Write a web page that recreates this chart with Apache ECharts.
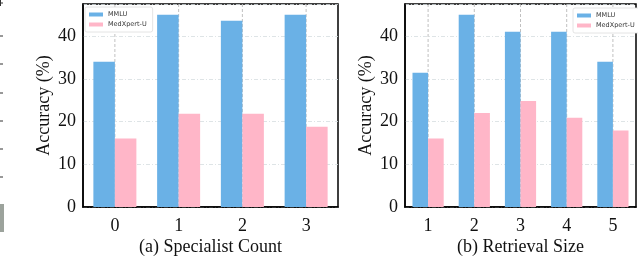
<!DOCTYPE html>
<html>
<head>
<meta charset="utf-8">
<script src="https://cdn.jsdelivr.net/npm/echarts@6/dist/echarts.min.js"></script>
<style>html,body{margin:0;padding:0;background:#fff}#c{width:638px;height:256px}</style>
</head>
<body>
<div id="c"></div>
<script>
var catsA = ['0', '1', '2', '3'];
var mmluA = [34.0, 45.0, 43.6, 45.0];
var medA = [16.0, 21.8, 21.8, 18.8];
var catsB = ['1', '2', '3', '4', '5'];
var mmluB = [31.4, 45.0, 41.0, 41.0, 34.0];
var medB = [16.0, 22.0, 24.8, 20.9, 17.9];
var yTicks = [0, 10, 20, 30, 40];
var seriesNames = ['MMLU', 'MedXpert-U'];
var colors = ['#6ab1e6', '#ffb6c8'];

var serif = 'Liberation Serif';
function xAxis(idx, cats, name) {
  return {
    type: 'category', gridIndex: idx, data: cats,
    name: name, nameLocation: 'middle', nameGap: 31, nameMoveOverlap: false,
    nameTextStyle: {fontFamily: serif, fontSize: 18, color: '#111'},
    axisLine: {show: true, lineStyle: {color: '#000', width: 1.5}},
    axisTick: {show: false},
    axisLabel: {fontFamily: serif, fontSize: 18, color: '#111', margin: 10},
    splitLine: {show: false}
  };
}
function yAxis(idx) {
  return {
    type: 'value', gridIndex: idx, min: 0, max: 47.5, interval: 10,
    name: 'Accuracy (%)', nameLocation: 'middle', nameGap: 30,
    nameTextStyle: {fontFamily: serif, fontSize: 18, color: '#111'},
    axisLine: {show: true, lineStyle: {color: '#000', width: 1.5}},
    axisTick: {show: false},
    axisLabel: {fontFamily: serif, fontSize: 18, color: '#111', margin: 7,
      formatter: function (v) { return yTicks.indexOf(v) >= 0 ? String(v) : ''; }},
    splitLine: {show: true, lineStyle: {color: '#d6dde0', width: 0.8, type: [4, 2, 1, 2]}}
  };
}
function legend(left, top) {
  return {
    data: seriesNames, orient: 'vertical', left: left, top: top,
    itemWidth: 14, itemHeight: 4, itemGap: 3,
    padding: [4, 6, 4, 4],
    backgroundColor: '#fff', borderColor: '#ddd', borderWidth: 0.8, borderRadius: 2,
    textStyle: {fontFamily: 'DejaVu Sans', fontSize: 6.5, color: '#333', padding: [0, 0, 0, 0]},
    icon: 'rect', selectedMode: false
  };
}
function vGrid(idx, cats) {
  return {
    type: 'custom', xAxisIndex: idx, yAxisIndex: idx, z: 1, silent: true,
    data: cats.map(function (c, i) { return [i]; }),
    renderItem: function (params, api) {
      var x = api.coord([api.value(0), 0])[0];
      var cs = params.coordSys;
      return {type: 'line', shape: {x1: x, y1: cs.y, x2: x, y2: cs.y + cs.height},
        style: {stroke: '#b0b0b0', lineWidth: 0.8, lineDash: [3, 2]}};
    }
  };
}
var ticksY = [3, 36, 64, 93, 121, 149, 177];
var gfx = [{type: 'line', shape: {x1: 0.5, y1: 0, x2: 0.5, y2: 6}, style: {stroke: '#333', lineWidth: 1}}];
ticksY.forEach(function (y) {
  gfx.push({type: 'line', shape: {x1: 0, y1: y, x2: 3, y2: y}, style: {stroke: '#333', lineWidth: 1}});
});
gfx.push({type: 'rect', shape: {x: 0, y: 204, width: 4, height: 28}, style: {fill: '#9ca39c'}});

var chart = echarts.init(document.getElementById('c'), null, {renderer: 'canvas'});
chart.setOption({
  animation: false,
  graphic: gfx,
  grid: [
    {left: 83, right: 300, top: 4, bottom: 49, show: true, borderColor: '#000', borderWidth: 1.5, backgroundColor: 'transparent', containLabel: false, outerBoundsMode: 'none'},
    {left: 405, right: 2, top: 4, bottom: 49, show: true, borderColor: '#000', borderWidth: 1.5, backgroundColor: 'transparent', containLabel: false, outerBoundsMode: 'none'}
  ],
  legend: [legend(85, 7), legend(573, 8)],
  xAxis: [xAxis(0, catsA, '(a) Specialist Count'), xAxis(1, catsB, '(b) Retrieval Size')],
  yAxis: [yAxis(0), yAxis(1)],
  series: [
    vGrid(0, catsA),
    vGrid(1, catsB),
    {name: seriesNames[0], type: 'bar', xAxisIndex: 0, yAxisIndex: 0, data: mmluA, barWidth: 21.5, barGap: '0%', z: 2, itemStyle: {color: colors[0]}},
    {name: seriesNames[1], type: 'bar', xAxisIndex: 0, yAxisIndex: 0, data: medA, barWidth: 21.5, barGap: '0%', z: 2, itemStyle: {color: colors[1]}},
    {name: seriesNames[0], type: 'bar', xAxisIndex: 1, yAxisIndex: 1, data: mmluB, barWidth: 15.6, barGap: '0%', z: 2, itemStyle: {color: colors[0]}},
    {name: seriesNames[1], type: 'bar', xAxisIndex: 1, yAxisIndex: 1, data: medB, barWidth: 15.6, barGap: '0%', z: 2, itemStyle: {color: colors[1]}}
  ]
});
</script>
</body>
</html>
